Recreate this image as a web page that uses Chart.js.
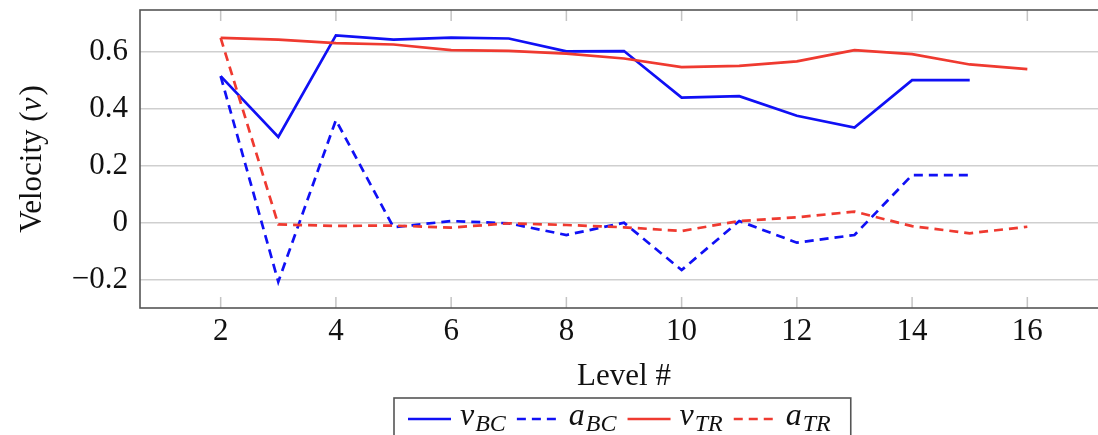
<!DOCTYPE html>
<html>
<head>
<meta charset="utf-8">
<script src="https://cdn.jsdelivr.net/npm/chart.js@4/dist/chart.umd.min.js"></script>
<style>
  html, body { margin: 0; padding: 0; background: #fff; overflow: hidden; }
  #wrap { width: 1098px; height: 435px; overflow: hidden; }
</style>
</head>
<body>
<div id="wrap"><canvas id="myChart" width="1110" height="435"></canvas></div>
<script>
// data
var levels = [2, 3, 4, 5, 6, 7, 8, 9, 10, 11, 12, 13, 14, 15, 16];
var vBC = [0.514, 0.301, 0.657, 0.642, 0.649, 0.646, 0.601, 0.602, 0.439, 0.444, 0.375, 0.334, 0.500, 0.500];
var aBC = [0.514, -0.207, 0.360, -0.016, 0.006, -0.002, -0.043, 0.000, -0.166, 0.006, -0.070, -0.043, 0.167, 0.167];
var vTR = [0.648, 0.642, 0.630, 0.625, 0.605, 0.603, 0.593, 0.576, 0.546, 0.550, 0.566, 0.605, 0.591, 0.555, 0.539];
var aTR = [0.648, -0.006, -0.011, -0.010, -0.017, -0.002, -0.008, -0.016, -0.029, 0.006, 0.019, 0.039, -0.012, -0.037, -0.014];
var xTicks = [2, 4, 6, 8, 10, 12, 14, 16];
var yTicks = [-0.2, 0, 0.2, 0.4, 0.6];
var legendMain = ['v', 'a', 'v', 'a'];
var legendSub = ['BC', 'BC', 'TR', 'TR'];

var BLUE = '#1010f5';
var RED = '#ef3a30';
var FONT = '"Liberation Serif", "DejaVu Serif", serif';

function pts(ys) {
	var out = [];
	for (var i = 0; i < ys.length; i++) {
		out.push({x: levels[i], y: ys[i]});
	}
	return out;
}

var decor = {
	id: 'decor',
	beforeDatasetsDraw: function(chart) {
		var ctx = chart.ctx;
		var a = chart.chartArea;
		var xs = chart.scales.x;
		ctx.save();
		// little inward ticks on x
		ctx.strokeStyle = '#c4c4c4';
		ctx.lineWidth = 1.5;
		for (var i = 0; i < xTicks.length; i++) {
			var px = xs.getPixelForValue(xTicks[i]);
			ctx.beginPath();
			ctx.moveTo(px, a.bottom);
			ctx.lineTo(px, a.bottom - 11);
			ctx.moveTo(px, a.top);
			ctx.lineTo(px, a.top + 11);
			ctx.stroke();
		}
		ctx.restore();
	},
	afterDraw: function(chart) {
		var ctx = chart.ctx;
		var a = chart.chartArea;
		ctx.save();
		// frame
		ctx.strokeStyle = '#555';
		ctx.lineWidth = 1.6;
		ctx.strokeRect(a.left, a.top, a.right - a.left, a.bottom - a.top);

		// y title
		ctx.fillStyle = '#111';
		ctx.textBaseline = 'middle';
		ctx.translate(33, (a.top + a.bottom) / 2);
		ctx.rotate(-Math.PI / 2);
		var t1 = 'Velocity (';
		var t2 = 'v';
		var t3 = ')';
		ctx.font = '31px ' + FONT;
		var w1 = ctx.measureText(t1).width;
		var w3 = ctx.measureText(t3).width;
		ctx.font = 'italic 31px ' + FONT;
		var w2 = ctx.measureText(t2).width + 2;
		var sx = -(w1 + w2 + w3) / 2;
		ctx.textAlign = 'left';
		ctx.font = '31px ' + FONT;
		ctx.fillText(t1, sx, 0);
		ctx.font = 'italic 31px ' + FONT;
		ctx.fillText(t2, sx + w1, 0);
		ctx.font = '31px ' + FONT;
		ctx.fillText(t3, sx + w1 + w2, 0);
		ctx.restore();

		// x title
		ctx.save();
		ctx.fillStyle = '#111';
		ctx.font = '31px ' + FONT;
		ctx.textAlign = 'center';
		ctx.textBaseline = 'alphabetic';
		ctx.fillText('Level #', (a.left + a.right) / 2, 385);

		// legend
		var ds = chart.data.datasets;
		var sample = 43, gapA = 9, gapB = 9, pad = 14;
		var widths = [];
		var total = pad * 2 + 4;
		for (var i = 0; i < ds.length; i++) {
			ctx.font = 'italic 32px ' + FONT;
			var wm = ctx.measureText(legendMain[i]).width + 1;
			ctx.font = 'italic 24px ' + FONT;
			var ws = ctx.measureText(legendSub[i]).width + 2;
			widths.push([wm, ws]);
			total += sample + gapA + wm + ws + (i < ds.length - 1 ? gapB : 0);
		}
		var bx = Math.round(622 - total / 2);
		var by = 398;
		ctx.strokeStyle = '#555';
		ctx.lineWidth = 1.6;
		ctx.fillStyle = '#fff';
		ctx.fillRect(bx, by, total, 50);
		ctx.strokeRect(bx, by, total, 50);
		var cx = bx + pad;
		var ly = 419;
		for (var i = 0; i < ds.length; i++) {
			ctx.strokeStyle = ds[i].borderColor;
			ctx.lineWidth = ds[i].borderWidth;
			ctx.setLineDash(ds[i].borderDash || []);
			ctx.beginPath();
			ctx.moveTo(cx, ly);
			ctx.lineTo(cx + sample, ly);
			ctx.stroke();
			ctx.setLineDash([]);
			cx += sample + gapA;
			ctx.fillStyle = '#111';
			ctx.textAlign = 'left';
			ctx.font = 'italic 32px ' + FONT;
			ctx.fillText(legendMain[i], cx, 425);
			cx += widths[i][0];
			ctx.font = 'italic 24px ' + FONT;
			ctx.fillText(legendSub[i], cx, 431);
			cx += widths[i][1] + gapB;
		}
		ctx.restore();
	}
};

var ctx = document.getElementById('myChart');
var myChart = new Chart(ctx, {
	type: 'line',
	data: {
		datasets: [
			{label: 'vBC', data: pts(vBC), borderColor: BLUE, borderWidth: 2.7, order: 4},
			{label: 'aBC', data: pts(aBC), borderColor: BLUE, borderWidth: 2.7, borderDash: [9, 6], order: 3},
			{label: 'vTR', data: pts(vTR), borderColor: RED, borderWidth: 2.7, order: 2},
			{label: 'aTR', data: pts(aTR), borderColor: RED, borderWidth: 2.7, borderDash: [9, 6], order: 1}
		]
	},
	options: {
		responsive: false,
		animation: false,
		devicePixelRatio: 1,
		layout: { padding: {top: 10, right: 2, left: 0, bottom: 0} },
		elements: {
			point: { radius: 0 },
			line: { tension: 0, fill: false, borderCapStyle: 'butt', borderJoinStyle: 'miter' }
		},
		plugins: {
			legend: { display: false },
			tooltip: { enabled: false }
		},
		scales: {
			x: {
				type: 'linear',
				min: 0.6,
				max: 17.4,
				afterBuildTicks: function(s) {
					s.ticks = xTicks.map(function(v) { return {value: v}; });
				},
				afterFit: function(s) {
					s.height = 127;
					s.paddingLeft = 0; s.paddingRight = 0;
				},
				grid: { display: false, drawTicks: false },
				border: { display: false },
				ticks: {
					color: '#111',
					font: { family: FONT, size: 31 },
					padding: 5,
					maxRotation: 0,
					autoSkip: false,
					callback: function(v) { return String(v); }
				}
			},
			y: {
				min: -0.299,
				max: 0.746,
				afterBuildTicks: function(s) {
					s.ticks = yTicks.map(function(v) { return {value: v}; });
				},
				afterFit: function(s) {
					s.width = 140;
					s.paddingTop = 0; s.paddingBottom = 0;
				},
				grid: { color: '#cfcfcf', lineWidth: 1.5, drawTicks: false },
				border: { display: false },
				ticks: {
					color: '#111',
					font: { family: FONT, size: 31 },
					padding: 12,
					autoSkip: false,
					callback: function(v) {
						if (Math.abs(v) < 1e-9) return '0';
						var s = Math.abs(v).toFixed(1);
						return (v < 0 ? '\u2212' : '') + s;
					}
				}
			}
		}
	},
	plugins: [decor]
});
</script>
</body>
</html>
